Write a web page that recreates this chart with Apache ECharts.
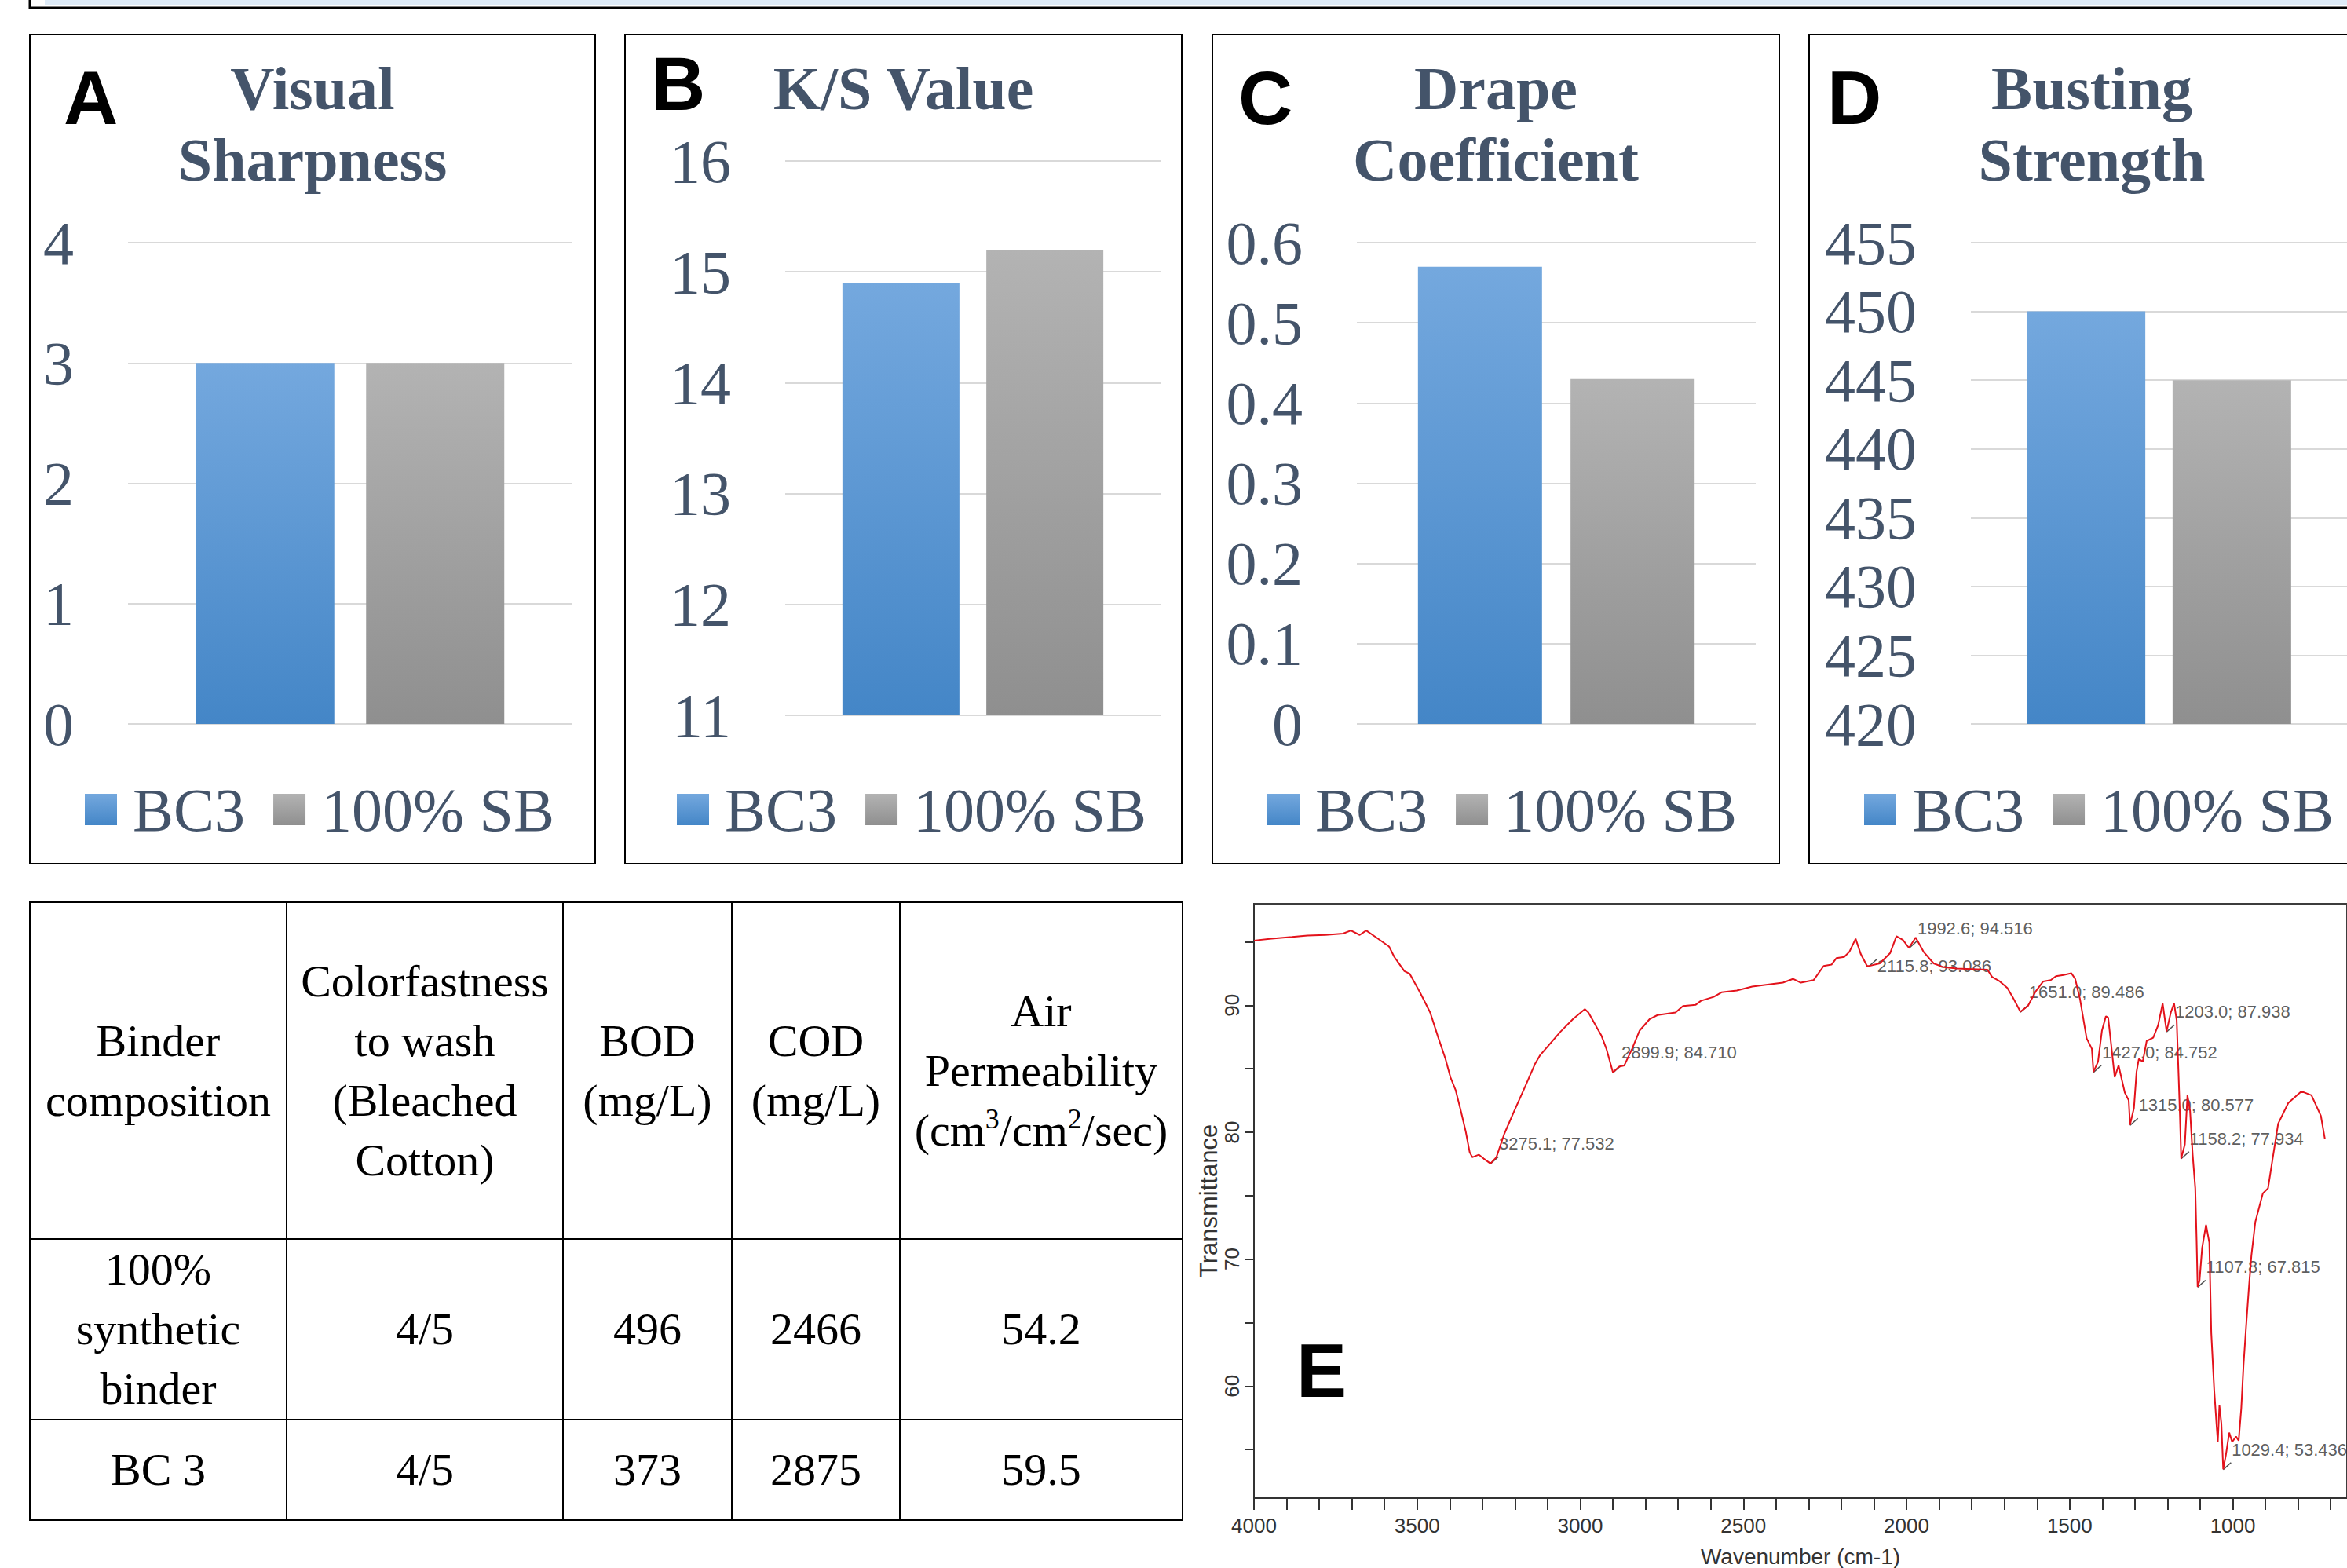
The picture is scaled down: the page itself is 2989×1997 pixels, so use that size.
<!DOCTYPE html>
<html>
<head>
<meta charset="utf-8">
<title>Binder comparison</title>
<script src="https://cdn.jsdelivr.net/npm/echarts@6/dist/echarts.min.js"></script>
<style>
  html, body { margin: 0; padding: 0; background: #fff; }
  #wrap { position: relative; width: 2989px; height: 1997px; overflow: hidden; }
  #chart { position: absolute; left: 0; top: 0; width: 2989px; height: 1997px; }
  #tbl {
    position: absolute; left: 37px; top: 1148px; width: 1468px;
    border-collapse: collapse; table-layout: fixed;
    font-family: "Liberation Serif", "Times New Roman", serif;
    font-size: 58px; line-height: 76px; color: #000;
  }
  #tbl td { border: 2.5px solid #000; text-align: center; vertical-align: middle; padding: 0; }
  #tbl sup { font-size: 0.62em; line-height: 0; vertical-align: 0.6em; }
</style>
</head>
<body>
<div id="wrap">
  <div id="chart"></div>
  <table id="tbl"></table>
</div>
<script>
// bar panels, values in order [BC3, 100% SB]
const seriesNames = ['BC3', '100% SB'];
const visualSharpness = [3, 3];
const ksValue = [14.9, 15.2];
const drapeCoefficient = [0.57, 0.43];
const burstingStrength = [450, 445];

// table
const tableHead = ['Binder\ncomposition', 'Colorfastness\nto wash\n(Bleached\nCotton)', 'BOD\n(mg/L)', 'COD\n(mg/L)', 'Air\nPermeability\n(cm^3/cm^2/sec)'];
const tableRows = [
  ['100%\nsynthetic\nbinder', '4/5', '496', '2466', '54.2'],
  ['BC 3', '4/5', '373', '2875', '59.5']
];

// FTIR spectrum [wavenumber, transmittance]
const irSpectrum = [
  [4000, 95.1], [3946, 95.24], [3883, 95.38], [3836, 95.5], [3781, 95.54], [3727, 95.65], [3703, 95.89],
  [3676, 95.54], [3656, 95.89], [3625, 95.34], [3586, 94.63], [3570, 93.81], [3539, 92.69], [3523, 92.49],
  [3492, 91.06], [3460, 89.43], [3437, 87.6], [3413, 85.77], [3398, 84.34], [3382, 83.32], [3366, 81.69],
  [3351, 80.06], [3339, 78.43], [3331, 78.03], [3311, 78.23], [3296, 77.92], [3275.1, 77.53], [3257, 78.03],
  [3233, 79.86], [3202, 81.69], [3170, 83.53], [3139, 85.36], [3123, 86.07], [3061, 87.91], [3022, 88.92],
  [2986, 89.7], [2975, 89.43], [2935, 87.6], [2920, 86.58], [2899.9, 84.71], [2881, 85.16], [2865, 85.26],
  [2841, 86.58], [2818, 88.01], [2787, 88.92], [2763, 89.23], [2708, 89.43], [2685, 89.94], [2646, 90.04],
  [2630, 90.35], [2591, 90.66], [2567, 91.02], [2520, 91.16], [2473, 91.47], [2426, 91.63], [2379, 91.78],
  [2348, 92.08], [2324, 91.78], [2285, 91.98], [2254, 93.1], [2230, 93.2], [2215, 93.71], [2191, 93.81],
  [2175, 94.22], [2156, 95.24], [2140, 94.02], [2121, 93.1], [2115.8, 93.09], [2082, 93.3], [2050, 94.12],
  [2031, 95.44], [2011, 95.14], [1992.6, 94.52], [1972, 95.34], [1948, 94.22], [1917, 93.3], [1886, 93.0],
  [1846, 92.9], [1752, 92.8], [1738, 92.24], [1714, 91.88], [1691, 91.37], [1675, 90.66], [1651.0, 89.49],
  [1628, 89.94], [1605, 91.06], [1581, 91.88], [1558, 91.98], [1542, 92.29], [1519, 92.39], [1495, 92.53],
  [1483, 92.08], [1468, 90.45], [1448, 87.4], [1432, 86.58], [1427.0, 84.75], [1413, 85.56], [1401, 88.01],
  [1389, 89.13], [1382, 89.03], [1374, 87.19], [1362, 84.34], [1350, 85.26], [1342, 84.34], [1331, 83.12],
  [1319, 82.51], [1315.0, 80.58], [1303, 81.9], [1295, 84.75], [1288, 85.77], [1276, 85.56], [1264, 87.19],
  [1244, 87.44], [1229, 88.42], [1215, 90.15], [1203.0, 87.94], [1190, 89.43], [1180, 90.15], [1172, 88.82],
  [1166, 84.34], [1162, 81.29], [1158.2, 77.93], [1147, 79.04], [1139, 82.91], [1131, 81.69], [1123, 78.23],
  [1115, 75.58], [1111, 71.5], [1107.8, 67.82], [1102, 68.3], [1094, 70.9], [1082, 72.7], [1072, 71.3],
  [1066, 64.17], [1057, 59.69], [1050, 57.04], [1046, 55.6], [1041, 58.47], [1035, 57.04], [1029.4, 53.44],
  [1021, 54.6], [1011, 56.33], [1002, 55.6], [990, 56.02], [982, 55.7], [974, 58.26], [967, 61.73],
  [959, 64.78], [951, 67.63], [943, 70.28], [931, 72.93], [908, 75.17], [892, 75.58], [876, 78.23],
  [861, 80.67], [830, 82.3], [790, 83.22], [759, 82.91], [730, 81.29], [718, 79.5]
];
const peakWave = [3275.1, 2899.9, 2115.8, 1992.6, 1651.0, 1427.0, 1315.0, 1203.0, 1158.2, 1107.8, 1029.4];
const peakTrans = [77.532, 84.710, 93.086, 94.516, 89.486, 84.752, 80.577, 87.938, 77.934, 67.815, 53.436];
const irXLabels = [4000, 3500, 3000, 2500, 2000, 1500, 1000];
const irYLabels = [60, 70, 80, 90];

// ---- table ----
const cellHtml = t => t.replace(/\^(\d)/g, '<sup>$1</sup>').replace(/\n/g, '<br>');
const colWidths = [327, 352, 215, 214, 360];
const rowHeights = [429, 226, 128];
let html = '<colgroup>' + colWidths.map(w => `<col style="width:${w}px">`).join('') + '</colgroup>';
[tableHead].concat(tableRows).forEach((row, r) => {
  html += `<tr style="height:${rowHeights[r]}px">` + row.map(c => `<td>${cellHtml(c)}</td>`).join('') + '</tr>';
});
document.getElementById('tbl').innerHTML = html;

// ---- chart ----
const serif = '"Liberation Serif", "Times New Roman", serif';
const sans = '"Liberation Sans", Arial, sans-serif';
const slate = '#44546a';

const chart = echarts.init(document.getElementById('chart'), null, { renderer: 'svg' });

// letterY: B sits a bit higher so it clears the "16" tick label
const panels = [
  { letter: 'A', title: 'Visual\nSharpness', values: visualSharpness, min: 0, max: 4, interval: 1,
    box: [38, 44, 720, 1056], grid: { left: 163, top: 309, width: 566, height: 613 }, barWidth: 176, letterX: 81, letterY: 124, legendLeft: 108 },
  { letter: 'B', title: 'K/S Value', values: ksValue, min: 11, max: 16, interval: 1,
    box: [796, 44, 709, 1056], grid: { left: 1000, top: 205, width: 478, height: 706 }, barWidth: 149, letterX: 829, letterY: 106, legendLeft: 862 },
  { letter: 'C', title: 'Drape\nCoefficient', values: drapeCoefficient, min: 0, max: 0.6, interval: 0.1,
    box: [1544, 44, 722, 1056], grid: { left: 1728, top: 309, width: 508, height: 613 }, barWidth: 158, letterX: 1577, letterY: 124, legendLeft: 1614 },
  { letter: 'D', title: 'Busting\nStrength', values: burstingStrength, min: 420, max: 455, interval: 5,
    box: [2304, 44, 720, 1056], grid: { left: 2510, top: 309, width: 485, height: 613 }, barWidth: 151, letterX: 2327, letterY: 124, legendLeft: 2374 }
];

const fills = [
  new echarts.graphic.LinearGradient(0, 0, 0, 1, [{ offset: 0, color: '#74a8de' }, { offset: 1, color: '#4486c7' }]),
  new echarts.graphic.LinearGradient(0, 0, 0, 1, [{ offset: 0, color: '#b3b3b3' }, { offset: 1, color: '#8f8f8f' }])
];

const grids = [], xAxes = [], yAxes = [], series = [], legends = [];
const graphics = [
  // bottom edge of the panel above
  { type: 'rect', shape: { x: 38, y: -40, width: 3000, height: 50 }, style: { fill: '#fff', stroke: '#000', lineWidth: 3 } },
  { type: 'rect', shape: { x: 57, y: -40, width: 3000, height: 47 }, style: { fill: '#deebf7' } }
];

panels.forEach((p, i) => {
  grids.push(p.grid);
  xAxes.push({ type: 'category', gridIndex: i, data: [''], show: false });
  yAxes.push({
    type: 'value', gridIndex: i, min: p.min, max: p.max, interval: p.interval,
    axisLine: { show: false }, axisTick: { show: false },
    splitLine: { lineStyle: { color: '#d9d9d9', width: 2 } },
    axisLabel: { margin: 69, fontFamily: serif, fontSize: 78, lineHeight: 70, color: slate }
  });
  seriesNames.forEach((name, k) => {
    series.push({
      type: 'bar', name, xAxisIndex: i, yAxisIndex: i,
      barWidth: p.barWidth, barGap: '23%',
      itemStyle: { color: fills[k] },
      silent: true,
      data: [p.values[k]]
    });
  });
  legends.push({
    data: seriesNames, left: p.legendLeft, top: 992, padding: 0, icon: 'rect',
    itemWidth: 41, itemHeight: 40, itemGap: 36, selectedMode: false,
    textStyle: { fontFamily: serif, fontSize: 78, lineHeight: 78, color: slate, padding: [0, 0, 0, 15] }
  });
  const [bx, by, bw, bh] = p.box;
  graphics.push(
    { type: 'rect', shape: { x: bx, y: by, width: bw, height: bh }, style: { fill: 'none', stroke: '#000', lineWidth: 2 } },
    { type: 'text', x: p.letterX, y: p.letterY,
      style: { text: p.letter, fontFamily: sans, fontWeight: 'bold', fontSize: 96, lineHeight: 70, fill: '#000',
        textAlign: 'left', align: 'left', textVerticalAlign: 'middle', verticalAlign: 'middle' } },
    { type: 'text', x: bx + bw / 2, y: 67,
      style: { text: p.title, fontFamily: serif, fontWeight: 'bold', fontSize: 78, lineHeight: 91, fill: slate,
        textAlign: 'center', align: 'center', textVerticalAlign: 'top', verticalAlign: 'top' } }
  );
});

// ---- FTIR panel ----
const irTicksX = [];
for (let w = 4000; w >= 700; w -= 100) irTicksX.push(w);
const irTicksY = [];
for (let t = 55; t <= 95; t += 5) irTicksY.push(t);

grids.push({ left: 1597, top: 1151, width: 1426, height: 763, show: true, borderColor: '#3c3c3c', borderWidth: 2 });
xAxes.push({
  type: 'value', gridIndex: 4, inverse: true, min: 650, max: 4000,
  axisLine: { lineStyle: { color: '#333', width: 2 } },
  axisTick: { customValues: irTicksX, length: 15, lineStyle: { color: '#333', width: 2 } },
  axisLabel: { customValues: irXLabels, formatter: v => String(v), margin: 22, fontFamily: sans, fontSize: 26, color: '#333' },
  splitLine: { show: false },
  name: 'Wavenumber (cm-1)', nameLocation: 'middle', nameGap: 60,
  nameTextStyle: { fontFamily: sans, fontSize: 28, color: '#333' }
});
yAxes.push({
  type: 'value', gridIndex: 4, min: 51.17, max: 98,
  axisLine: { show: true, lineStyle: { color: '#333', width: 2 } },
  axisTick: { show: true, customValues: irTicksY, length: 12, lineStyle: { color: '#333', width: 2 } },
  axisLabel: { customValues: irYLabels, rotate: 90, margin: 15, fontFamily: sans, fontSize: 26, color: '#333' },
  splitLine: { show: false },
  name: 'Transmittance', nameLocation: 'middle', nameRotate: 90, nameGap: 32,
  nameTextStyle: { fontFamily: sans, fontSize: 31, color: '#333' }
});
series.push({
  type: 'line', xAxisIndex: 4, yAxisIndex: 4, data: irSpectrum,
  symbol: 'none', silent: true,
  lineStyle: { color: '#e3121b', width: 2 }
});
series.push({
  type: 'scatter', xAxisIndex: 4, yAxisIndex: 4, silent: true,
  symbol: 'path://M0,10L10,0', symbolSize: [10, 9], symbolOffset: [5, -4],
  itemStyle: { color: 'transparent', borderColor: '#222', borderWidth: 1.5 },
  label: {
    show: true, position: 'right', distance: 0, offset: [0, -21],
    fontFamily: sans, fontSize: 22, color: '#333',
    formatter: p => p.value[0].toFixed(1) + '; ' + p.value[1].toFixed(3)
  },
  // the 2115.8 label sits level with its peak
  data: peakWave.map((w, i) => w === 2115.8
    ? { value: [w, peakTrans[i]], label: { offset: [0, 4] } }
    : [w, peakTrans[i]])
});
graphics.push({ type: 'text', x: 1651, y: 1745,
  style: { text: 'E', fontFamily: sans, fontWeight: 'bold', fontSize: 96, lineHeight: 70, fill: '#000',
    textAlign: 'left', align: 'left', textVerticalAlign: 'middle', verticalAlign: 'middle' } });

chart.setOption({
  animation: false,
  grid: grids,
  xAxis: xAxes,
  yAxis: yAxes,
  legend: legends,
  series: series,
  graphic: graphics
});
</script>
</body>
</html>
